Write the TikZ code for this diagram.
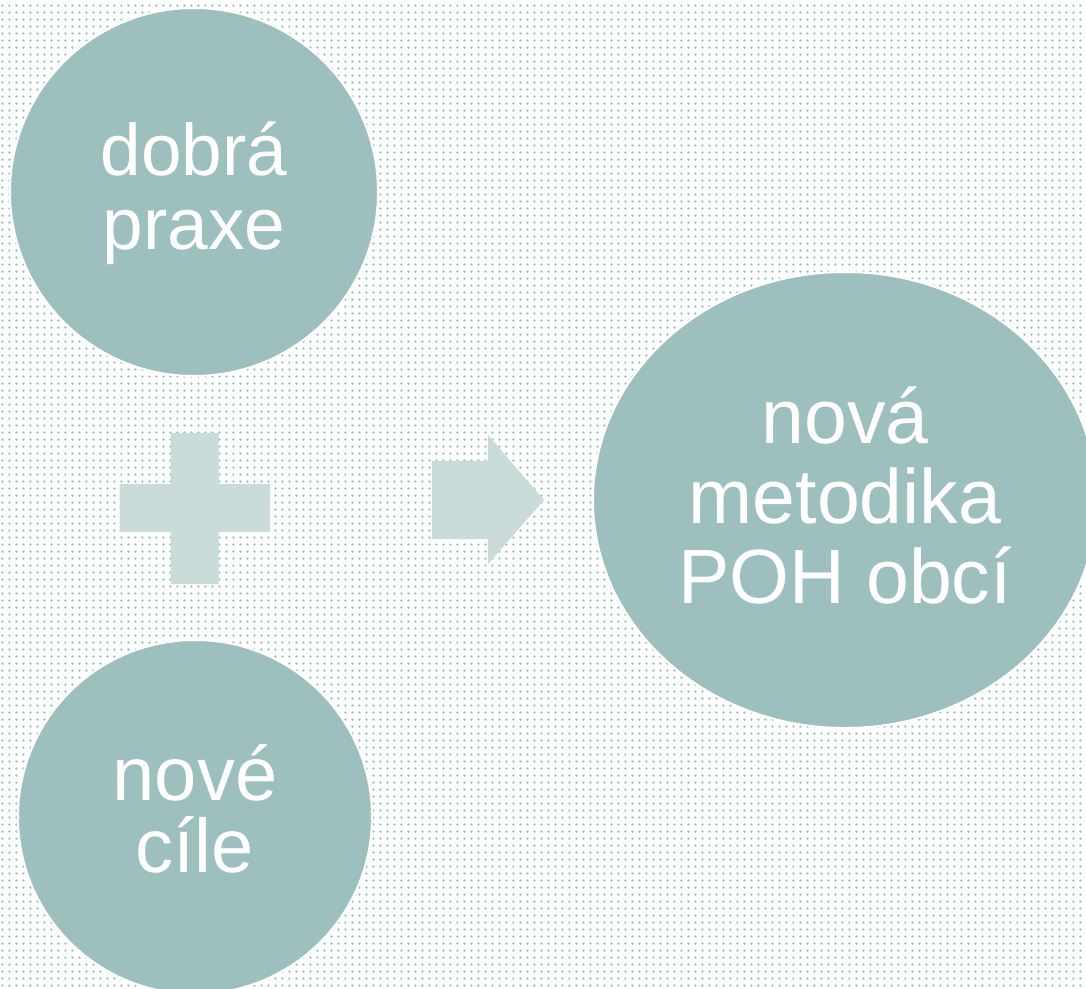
\documentclass[tikz,border=0pt]{standalone}
\usepackage{fontspec}
\setmainfont{Liberation Sans}
\usetikzlibrary{patterns.meta,shapes.geometric}
\definecolor{bubble}{HTML}{9DBFBE}
\definecolor{signc}{HTML}{C9DCDA}
\definecolor{dotc}{HTML}{9CC4C3}
\tikzdeclarepattern{
  name=bgdots,
  type=uncolored,
  bounding box={(0pt,0pt) and (7.45pt,7.45pt)},
  tile size={(7.45pt,7.45pt)},
  code={\fill (3.7pt,3.7pt) circle (1.4pt);}
}
\tikzset{
  bubbleshape/.style={fill=bubble, draw=white, line width=2pt, inner sep=0pt},
  bubbletext/.style={text=white, align=center, inner sep=0pt},
  signshape/.style={fill=signc, draw=none}
}
\begin{document}
\begin{tikzpicture}[x=1pt, y=-1pt]
\useasboundingbox (0,0) rectangle (1086,988);
\clip (0,0) rectangle (1086,988);
\fill[white] (0,0) rectangle (1086,988);
\fill[pattern=bgdots, pattern color=dotc] (0,0) rectangle (1086,988);

\node[bubbleshape, circle, minimum size=368pt] (praxe) at (194,192) {};
\node[bubbleshape, circle, minimum size=354pt] (cile) at (195,817) {};
\node[bubbleshape, ellipse, minimum width=504pt, minimum height=456pt] (metodika) at (845,500) {};

\node[bubbletext, font=\fontsize{73pt}{74pt}\selectfont] (tpraxe) at (194,193) {dobrá\\praxe};
\node[bubbletext, font=\fontsize{76pt}{72pt}\selectfont] (tcile) at (195,809) {nové\\cíle};
\node[bubbletext, font=\fontsize{77pt}{80pt}\selectfont] (tmetodika) at (845,496) {nová\\metodika\\POH obcí};

% plus sign
\fill[signshape] (170.5,433) -- (218.5,433) -- (218.5,484) -- (270,484) -- (270,532)
  -- (218.5,532) -- (218.5,584) -- (170.5,584) -- (170.5,532) -- (119.5,532)
  -- (119.5,484) -- (170.5,484) -- cycle;
% arrow
\fill[signshape] (432,461) -- (488,461) -- (488,435) -- (544,500) -- (488,564)
  -- (488,539) -- (432,539) -- cycle;
\end{tikzpicture}
\end{document}
